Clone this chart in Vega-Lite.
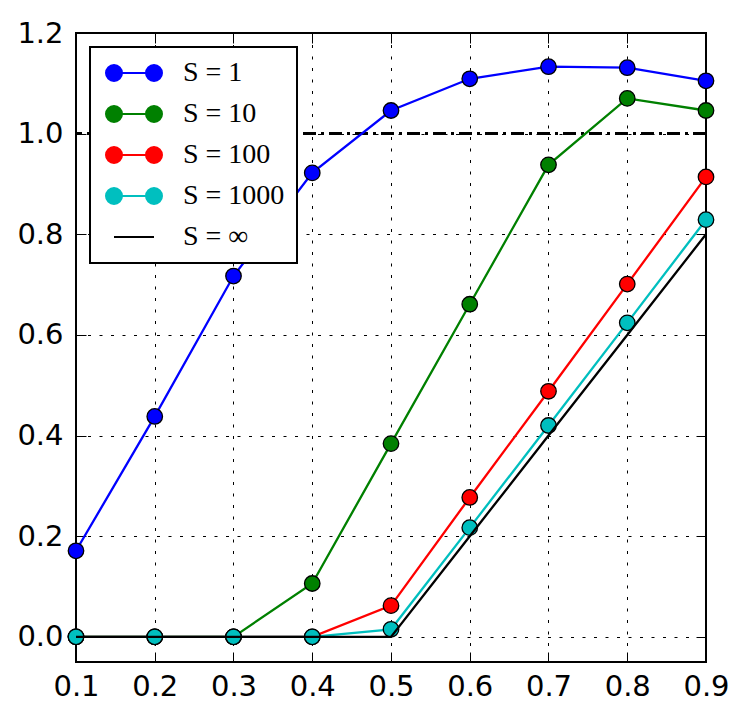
{
  "$schema": "https://vega.github.io/schema/vega-lite/v6.json",
  "autosize": {"type": "none"},
  "padding": {"left": 76, "top": 33, "right": 43, "bottom": 60},
  "width": 630,
  "height": 629,
  "background": "white",
  "config": {
    "view": {"stroke": "black", "strokeWidth": 2},
    "axis": {
      "labelFont": "DejaVu Sans",
      "labelFontSize": 29,
      "labelColor": "black",
      "labelFlush": false,
      "labelOverlap": false,
      "tickColor": "black",
      "tickWidth": 1,
      "tickSize": -10,
      "domain": false,
      "gridColor": "black",
      "gridOpacity": 1,
      "gridWidth": 1,
      "gridDash": [3, 8.5],
      "title": null
    }
  },
  "data": {
    "values": [
      {"x": 0.1, "y": 0.171, "S": "S = 1"},
      {"x": 0.2, "y": 0.438, "S": "S = 1"},
      {"x": 0.3, "y": 0.717, "S": "S = 1"},
      {"x": 0.4, "y": 0.922, "S": "S = 1"},
      {"x": 0.5, "y": 1.046, "S": "S = 1"},
      {"x": 0.6, "y": 1.109, "S": "S = 1"},
      {"x": 0.7, "y": 1.133, "S": "S = 1"},
      {"x": 0.8, "y": 1.131, "S": "S = 1"},
      {"x": 0.9, "y": 1.105, "S": "S = 1"},
      {"x": 0.1, "y": 0.0, "S": "S = 10"},
      {"x": 0.2, "y": 0.0, "S": "S = 10"},
      {"x": 0.3, "y": 0.0, "S": "S = 10"},
      {"x": 0.4, "y": 0.106, "S": "S = 10"},
      {"x": 0.5, "y": 0.384, "S": "S = 10"},
      {"x": 0.6, "y": 0.661, "S": "S = 10"},
      {"x": 0.7, "y": 0.938, "S": "S = 10"},
      {"x": 0.8, "y": 1.07, "S": "S = 10"},
      {"x": 0.9, "y": 1.046, "S": "S = 10"},
      {"x": 0.1, "y": 0.0, "S": "S = 100"},
      {"x": 0.2, "y": 0.0, "S": "S = 100"},
      {"x": 0.3, "y": 0.0, "S": "S = 100"},
      {"x": 0.4, "y": 0.0, "S": "S = 100"},
      {"x": 0.5, "y": 0.062, "S": "S = 100"},
      {"x": 0.6, "y": 0.277, "S": "S = 100"},
      {"x": 0.7, "y": 0.488, "S": "S = 100"},
      {"x": 0.8, "y": 0.701, "S": "S = 100"},
      {"x": 0.9, "y": 0.914, "S": "S = 100"},
      {"x": 0.1, "y": 0.0, "S": "S = 1000"},
      {"x": 0.2, "y": 0.0, "S": "S = 1000"},
      {"x": 0.3, "y": 0.0, "S": "S = 1000"},
      {"x": 0.4, "y": 0.0, "S": "S = 1000"},
      {"x": 0.5, "y": 0.015, "S": "S = 1000"},
      {"x": 0.6, "y": 0.217, "S": "S = 1000"},
      {"x": 0.7, "y": 0.42, "S": "S = 1000"},
      {"x": 0.8, "y": 0.624, "S": "S = 1000"},
      {"x": 0.9, "y": 0.829, "S": "S = 1000"},
      {"x": 0.1, "y": 0.0, "S": "S = ∞"},
      {"x": 0.2, "y": 0.0, "S": "S = ∞"},
      {"x": 0.3, "y": 0.0, "S": "S = ∞"},
      {"x": 0.4, "y": 0.0, "S": "S = ∞"},
      {"x": 0.5, "y": 0.0, "S": "S = ∞"},
      {"x": 0.6, "y": 0.2, "S": "S = ∞"},
      {"x": 0.7, "y": 0.4, "S": "S = ∞"},
      {"x": 0.8, "y": 0.6, "S": "S = ∞"},
      {"x": 0.9, "y": 0.8, "S": "S = ∞"}
    ]
  },
  "resolve": {"axis": {"x": "independent", "y": "independent"}},
  "layer": [
    {
      "mark": {"type": "rule", "color": "black", "strokeWidth": 2.5, "strokeDash": [13, 5, 3, 5]},
      "encoding": {"y": {"datum": 1, "type": "quantitative", "axis": null}}
    },
    {
      "transform": [{"filter": "datum.S !== 'S = ∞'"}],
      "mark": {"type": "line", "strokeWidth": 2.3},
      "encoding": {
        "x": {
          "field": "x", "type": "quantitative",
          "scale": {"domain": [0.1, 0.9], "nice": false, "zero": false},
          "axis": {"orient": "bottom", "values": [0.1, 0.2, 0.3, 0.4, 0.5, 0.6, 0.7, 0.8, 0.9], "format": ".1f", "grid": true, "labelPadding": 20}
        },
        "y": {
          "field": "y", "type": "quantitative",
          "scale": {"domain": [-0.05, 1.2], "nice": false, "zero": false},
          "axis": {"orient": "left", "values": [0, 0.2, 0.4, 0.6, 0.8, 1.0, 1.2], "format": ".1f", "grid": true, "labelPadding": 23}
        },
        "color": {
          "field": "S", "type": "nominal",
          "scale": {
            "domain": ["S = 1", "S = 10", "S = 100", "S = 1000", "S = ∞"],
            "range": ["#0000ff", "#008000", "#ff0000", "#00bfbf", "#000000"]
          },
          "legend": {
            "orient": "top-left",
            "offset": 14,
            "title": null,
            "fillColor": "white",
            "strokeColor": "black",
            "padding": 12,
            "symbolSize": 400,
            "symbolOffset": 18,
            "symbolStrokeWidth": 2,
            "labelFont": "Liberation Serif",
            "labelFontSize": 28,
            "labelColor": "black",
            "labelOffset": 35,
            "rowPadding": 13,
            "encode": {
              "legend": {"update": {"strokeWidth": {"value": 2}}},
              "symbols": {
                "update": {
                  "shape": {"signal": "datum.value === 'S = ∞' ? 'M-2,0L2,0' : 'M-1.2,0L1.2,0M-2.8,0A0.8,0.8 0 1,0 -1.2,0A0.8,0.8 0 1,0 -2.8,0ZM1.2,0A0.8,0.8 0 1,0 2.8,0A0.8,0.8 0 1,0 1.2,0Z'"},
                  "fill": {"signal": "datum.value === 'S = ∞' ? 'transparent' : scale('color', datum.value)"},
                  "stroke": {"signal": "scale('color', datum.value)"},
                  "opacity": {"value": 1}
                }
              }
            }
          }
        }
      }
    },
    {
      "transform": [{"filter": "datum.S !== 'S = ∞'"}],
      "mark": {"type": "point", "shape": "circle", "filled": true, "size": 240, "stroke": "black", "strokeWidth": 1.3, "opacity": 1},
      "encoding": {
        "x": {"field": "x", "type": "quantitative", "axis": {"orient": "top", "labels": false, "grid": false, "values": [0.1, 0.2, 0.3, 0.4, 0.5, 0.6, 0.7, 0.8, 0.9]}},
        "y": {"field": "y", "type": "quantitative", "axis": {"orient": "right", "labels": false, "grid": false, "values": [0, 0.2, 0.4, 0.6, 0.8, 1.0, 1.2]}},
        "color": {"field": "S", "type": "nominal", "legend": null}
      }
    },
    {
      "transform": [{"filter": "datum.S === 'S = ∞'"}],
      "mark": {"type": "line", "strokeWidth": 2.3},
      "encoding": {
        "x": {"field": "x", "type": "quantitative", "axis": null},
        "y": {"field": "y", "type": "quantitative", "axis": null},
        "color": {"field": "S", "type": "nominal", "legend": null}
      }
    }
  ]
}
